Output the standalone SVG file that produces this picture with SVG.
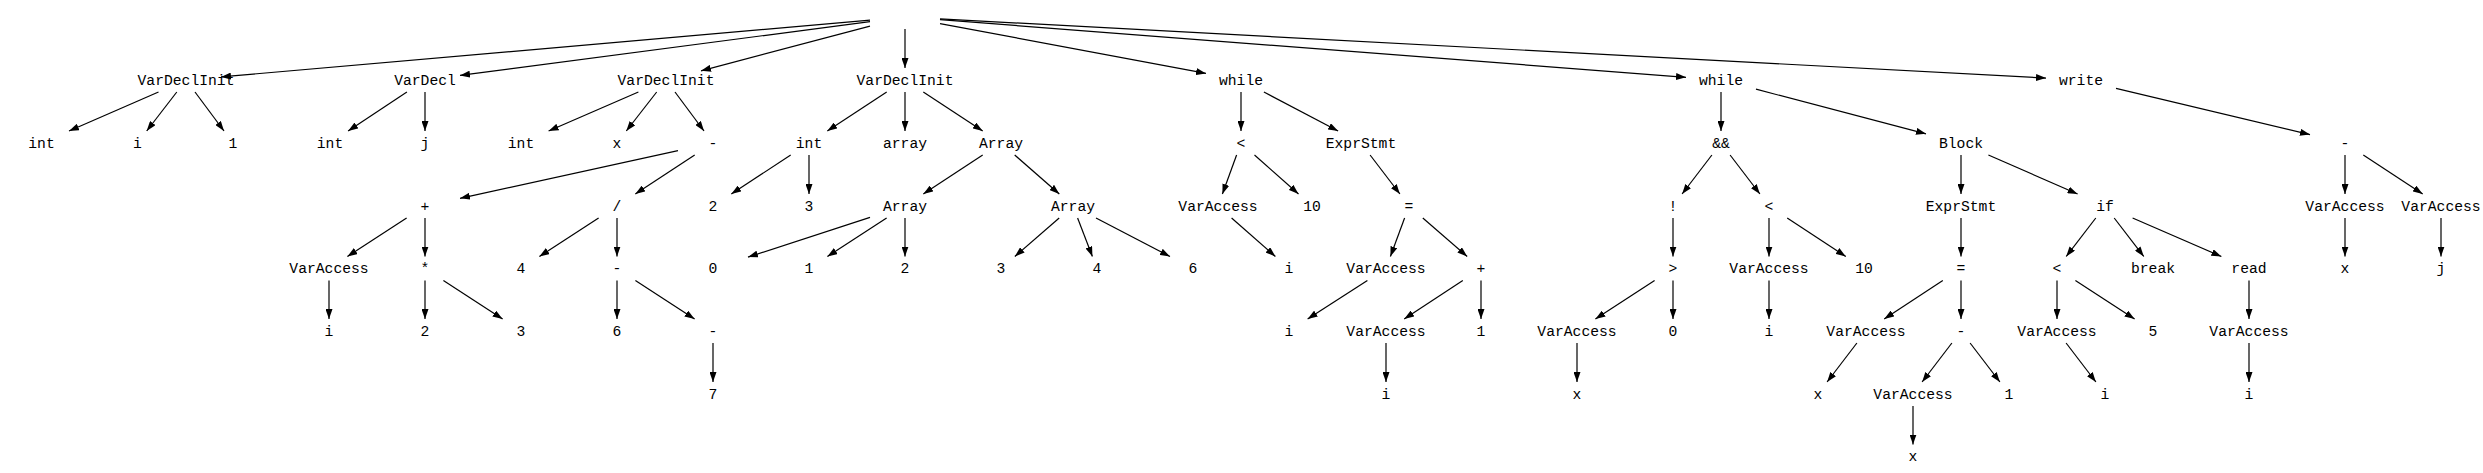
<svg xmlns="http://www.w3.org/2000/svg" width="2483" height="473" viewBox="0 0 2483 473">
<style>
text{font-family:"Liberation Mono","DejaVu Sans Mono",monospace;font-size:14.7px;fill:#000;text-anchor:middle}
.e line{stroke:#000;stroke-width:1.2;fill:none;marker-end:url(#ah)}
</style>
<defs>
<marker id="ah" markerUnits="userSpaceOnUse" markerWidth="10" markerHeight="7" refX="10" refY="3.5" orient="auto"><path d="M0,0 L10,3.5 L0,7 z" fill="#000"/></marker>
</defs>
<rect width="2483" height="473" fill="#fff"/>
<g id="connectors" class="e">
<line x1="870" y1="20.1" x2="221" y2="76.9"/>
<line x1="870" y1="21.6" x2="460" y2="75.4"/>
<line x1="870" y1="26.2" x2="701" y2="70.8"/>
<line x1="905" y1="29" x2="905" y2="68"/>
<line x1="940" y1="23.6" x2="1206" y2="73.4"/>
<line x1="940" y1="19.7" x2="1686" y2="77.3"/>
<line x1="940" y1="18.9" x2="2046" y2="78.1"/>
<line x1="158.5" y1="92" x2="69" y2="131"/>
<line x1="176.8" y1="92" x2="146.7" y2="131"/>
<line x1="195" y1="92" x2="224" y2="131"/>
<line x1="406.9" y1="92" x2="348.1" y2="131"/>
<line x1="425" y1="92" x2="425" y2="131"/>
<line x1="638.4" y1="92" x2="548.6" y2="131"/>
<line x1="656.7" y1="92" x2="626.3" y2="131"/>
<line x1="675" y1="92" x2="704" y2="131"/>
<line x1="678" y1="150.7" x2="460" y2="198.3"/>
<line x1="694.7" y1="155" x2="635.3" y2="194"/>
<line x1="406.6" y1="218" x2="347.4" y2="256.5"/>
<line x1="425" y1="218" x2="425" y2="256.5"/>
<line x1="598.6" y1="218" x2="539.4" y2="256.5"/>
<line x1="617" y1="218" x2="617" y2="256.5"/>
<line x1="329" y1="280.5" x2="329" y2="319"/>
<line x1="425" y1="280.5" x2="425" y2="319"/>
<line x1="443.4" y1="280.5" x2="502.6" y2="319"/>
<line x1="617" y1="280.5" x2="617" y2="319"/>
<line x1="635.4" y1="280.5" x2="694.6" y2="319"/>
<line x1="713" y1="343" x2="713" y2="382"/>
<line x1="886.7" y1="92" x2="827.3" y2="131"/>
<line x1="905" y1="92" x2="905" y2="131"/>
<line x1="923.3" y1="92" x2="982.7" y2="131"/>
<line x1="790.7" y1="155" x2="731.3" y2="194"/>
<line x1="809" y1="155" x2="809" y2="194"/>
<line x1="982.7" y1="155" x2="923.3" y2="194"/>
<line x1="1014.7" y1="155" x2="1059.3" y2="194"/>
<line x1="870" y1="217.4" x2="748" y2="257.1"/>
<line x1="886.6" y1="218" x2="827.4" y2="256.5"/>
<line x1="905" y1="218" x2="905" y2="256.5"/>
<line x1="1059.2" y1="218" x2="1014.8" y2="256.5"/>
<line x1="1077.6" y1="218" x2="1092.4" y2="256.5"/>
<line x1="1096" y1="218" x2="1170" y2="256.5"/>
<line x1="1241" y1="92" x2="1241" y2="131"/>
<line x1="1263.9" y1="92" x2="1338.1" y2="131"/>
<line x1="1236.6" y1="155" x2="1222.4" y2="194"/>
<line x1="1254.5" y1="155" x2="1298.5" y2="194"/>
<line x1="1370.1" y1="155" x2="1399.9" y2="194"/>
<line x1="1231.6" y1="218" x2="1275.4" y2="256.5"/>
<line x1="1404.6" y1="218" x2="1390.4" y2="256.5"/>
<line x1="1422.8" y1="218" x2="1467.2" y2="256.5"/>
<line x1="1367.4" y1="280.5" x2="1307.6" y2="319"/>
<line x1="1462.8" y1="280.5" x2="1404.2" y2="319"/>
<line x1="1481" y1="280.5" x2="1481" y2="319"/>
<line x1="1386" y1="343" x2="1386" y2="382"/>
<line x1="1721" y1="92" x2="1721" y2="131"/>
<line x1="1756" y1="89.2" x2="1926" y2="133.8"/>
<line x1="1711.9" y1="155" x2="1682.1" y2="194"/>
<line x1="1730.1" y1="155" x2="1759.9" y2="194"/>
<line x1="1673" y1="218" x2="1673" y2="256.5"/>
<line x1="1769" y1="218" x2="1769" y2="256.5"/>
<line x1="1787.2" y1="218" x2="1845.8" y2="256.5"/>
<line x1="1654.6" y1="280.5" x2="1595.4" y2="319"/>
<line x1="1673" y1="280.5" x2="1673" y2="319"/>
<line x1="1769" y1="280.5" x2="1769" y2="319"/>
<line x1="1577" y1="343" x2="1577" y2="382"/>
<line x1="1961" y1="155" x2="1961" y2="194"/>
<line x1="1988.4" y1="155" x2="2077.6" y2="194"/>
<line x1="1961" y1="218" x2="1961" y2="256.5"/>
<line x1="1942.8" y1="280.5" x2="1884.2" y2="319"/>
<line x1="1961" y1="280.5" x2="1961" y2="319"/>
<line x1="1856.9" y1="343" x2="1827.1" y2="382"/>
<line x1="1951.9" y1="343" x2="1922.1" y2="382"/>
<line x1="1970.1" y1="343" x2="1999.9" y2="382"/>
<line x1="1913" y1="406" x2="1913" y2="444.5"/>
<line x1="2095.8" y1="218" x2="2066.2" y2="256.5"/>
<line x1="2114.2" y1="218" x2="2143.8" y2="256.5"/>
<line x1="2132.6" y1="218" x2="2221.4" y2="256.5"/>
<line x1="2057" y1="280.5" x2="2057" y2="319"/>
<line x1="2075.4" y1="280.5" x2="2134.6" y2="319"/>
<line x1="2249" y1="280.5" x2="2249" y2="319"/>
<line x1="2066.1" y1="343" x2="2095.9" y2="382"/>
<line x1="2249" y1="343" x2="2249" y2="382"/>
<line x1="2116" y1="88.4" x2="2310" y2="134.6"/>
<line x1="2345" y1="155" x2="2345" y2="194"/>
<line x1="2363.3" y1="155" x2="2422.7" y2="194"/>
<line x1="2345" y1="218" x2="2345" y2="256.5"/>
<line x1="2441" y1="218" x2="2441" y2="256.5"/>
</g>
<g id="n_root"><rect x="870" y="5" width="70" height="24" fill="none" stroke="none"/></g>
<g id="n_A"><text x="186" y="84.8">VarDeclInit</text></g>
<g id="n_A1"><text x="41.5" y="147.8">int</text></g>
<g id="n_A2"><text x="137.5" y="147.8">i</text></g>
<g id="n_A3"><text x="233" y="147.8">1</text></g>
<g id="n_B"><text x="425" y="84.8">VarDecl</text></g>
<g id="n_B1"><text x="330" y="147.8">int</text></g>
<g id="n_B2"><text x="425" y="147.8">j</text></g>
<g id="n_C"><text x="666" y="84.8">VarDeclInit</text></g>
<g id="n_C1"><text x="521" y="147.8">int</text></g>
<g id="n_C2"><text x="617" y="147.8">x</text></g>
<g id="n_C3"><text x="713" y="147.8">-</text></g>
<g id="n_C3a"><text x="425" y="210.8">+</text></g>
<g id="n_C3b"><text x="617" y="210.8">/</text></g>
<g id="n_C3a1"><text x="329" y="273.3">VarAccess</text></g>
<g id="n_C3a2"><text x="425" y="273.3">*</text></g>
<g id="n_C3b1"><text x="521" y="273.3">4</text></g>
<g id="n_C3b2"><text x="617" y="273.3">-</text></g>
<g id="n_C3a1a"><text x="329" y="335.8">i</text></g>
<g id="n_C3a2a"><text x="425" y="335.8">2</text></g>
<g id="n_C3a2b"><text x="521" y="335.8">3</text></g>
<g id="n_C3b2a"><text x="617" y="335.8">6</text></g>
<g id="n_C3b2b"><text x="713" y="335.8">-</text></g>
<g id="n_C3b2b1"><text x="713" y="398.8">7</text></g>
<g id="n_D"><text x="905" y="84.8">VarDeclInit</text></g>
<g id="n_D1"><text x="809" y="147.8">int</text></g>
<g id="n_D2"><text x="905" y="147.8">array</text></g>
<g id="n_D3"><text x="1001" y="147.8">Array</text></g>
<g id="n_D1a"><text x="713" y="210.8">2</text></g>
<g id="n_D1b"><text x="809" y="210.8">3</text></g>
<g id="n_D3a"><text x="905" y="210.8">Array</text></g>
<g id="n_D3b"><text x="1073" y="210.8">Array</text></g>
<g id="n_D3a1"><text x="713" y="273.3">0</text></g>
<g id="n_D3a2"><text x="809" y="273.3">1</text></g>
<g id="n_D3a3"><text x="905" y="273.3">2</text></g>
<g id="n_D3b1"><text x="1001" y="273.3">3</text></g>
<g id="n_D3b2"><text x="1097" y="273.3">4</text></g>
<g id="n_D3b3"><text x="1193" y="273.3">6</text></g>
<g id="n_E"><text x="1241" y="84.8">while</text></g>
<g id="n_E1"><text x="1241" y="147.8">&lt;</text></g>
<g id="n_E2"><text x="1361" y="147.8">ExprStmt</text></g>
<g id="n_E1a"><text x="1218" y="210.8">VarAccess</text></g>
<g id="n_E1b"><text x="1312" y="210.8">10</text></g>
<g id="n_E2a"><text x="1409" y="210.8">=</text></g>
<g id="n_E1a1"><text x="1289" y="273.3">i</text></g>
<g id="n_E2a1"><text x="1386" y="273.3">VarAccess</text></g>
<g id="n_E2a2"><text x="1481" y="273.3">+</text></g>
<g id="n_E2a1a"><text x="1289" y="335.8">i</text></g>
<g id="n_E2a2a"><text x="1386" y="335.8">VarAccess</text></g>
<g id="n_E2a2b"><text x="1481" y="335.8">1</text></g>
<g id="n_E2a2a1"><text x="1386" y="398.8">i</text></g>
<g id="n_F"><text x="1721" y="84.8">while</text></g>
<g id="n_F1"><text x="1721" y="147.8">&amp;&amp;</text></g>
<g id="n_F2"><text x="1961" y="147.8">Block</text></g>
<g id="n_F1a"><text x="1673" y="210.8">!</text></g>
<g id="n_F1b"><text x="1769" y="210.8">&lt;</text></g>
<g id="n_F2a"><text x="1961" y="210.8">ExprStmt</text></g>
<g id="n_F2b"><text x="2105" y="210.8">if</text></g>
<g id="n_F1a1"><text x="1673" y="273.3">&gt;</text></g>
<g id="n_F1b1"><text x="1769" y="273.3">VarAccess</text></g>
<g id="n_F1b2"><text x="1864" y="273.3">10</text></g>
<g id="n_F2a1"><text x="1961" y="273.3">=</text></g>
<g id="n_F2b1"><text x="2057" y="273.3">&lt;</text></g>
<g id="n_F2b2"><text x="2153" y="273.3">break</text></g>
<g id="n_F2b3"><text x="2249" y="273.3">read</text></g>
<g id="n_F1a1a"><text x="1577" y="335.8">VarAccess</text></g>
<g id="n_F1a1b"><text x="1673" y="335.8">0</text></g>
<g id="n_F1b1a"><text x="1769" y="335.8">i</text></g>
<g id="n_F2a1a"><text x="1866" y="335.8">VarAccess</text></g>
<g id="n_F2a1b"><text x="1961" y="335.8">-</text></g>
<g id="n_F2b1a"><text x="2057" y="335.8">VarAccess</text></g>
<g id="n_F2b1b"><text x="2153" y="335.8">5</text></g>
<g id="n_F2b3a"><text x="2249" y="335.8">VarAccess</text></g>
<g id="n_F1a1a1"><text x="1577" y="398.8">x</text></g>
<g id="n_F2a1a1"><text x="1818" y="398.8">x</text></g>
<g id="n_F2a1b1"><text x="1913" y="398.8">VarAccess</text></g>
<g id="n_F2a1b2"><text x="2009" y="398.8">1</text></g>
<g id="n_F2b1a1"><text x="2105" y="398.8">i</text></g>
<g id="n_F2b3a1"><text x="2249" y="398.8">i</text></g>
<g id="n_F2a1b1a"><text x="1913" y="461.3">x</text></g>
<g id="n_G"><text x="2081" y="84.8">write</text></g>
<g id="n_G1"><text x="2345" y="147.8">-</text></g>
<g id="n_G1a"><text x="2345" y="210.8">VarAccess</text></g>
<g id="n_G1b"><text x="2441" y="210.8">VarAccess</text></g>
<g id="n_G1a1"><text x="2345" y="273.3">x</text></g>
<g id="n_G1b1"><text x="2441" y="273.3">j</text></g>
</svg>
